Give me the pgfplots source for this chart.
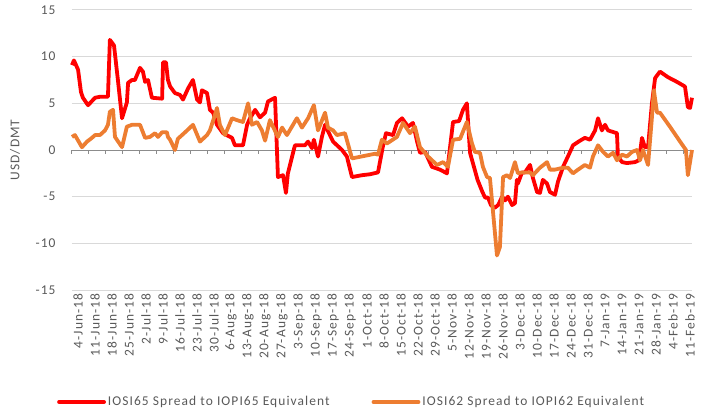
\documentclass[border=0pt]{standalone}
\usepackage{pgfplots}
\pgfplotsset{compat=1.18}
\usepackage{fontspec}
\setmainfont{Carlito}[LetterSpace=8]
\definecolor{txt}{HTML}{595959}
\definecolor{gridc}{HTML}{D9D9D9}
\definecolor{axc}{HTML}{8C8C8C}
\definecolor{sred}{HTML}{FF0000}
\definecolor{sorange}{HTML}{ED7D31}
\pgfplotstableread{
x y
0 9.1
0.8 9.6
2.5 8.6
3.7 6.2
4.5 5.6
6.6 4.8
9.5 5.6
11.5 5.7
14.8 5.7
15.6 11.8
17.3 11.2
18.9 7.5
20.6 3.4
22.6 5.1
23.1 7.2
24.7 7.5
25.9 7.5
28.0 8.8
29.2 8.4
30.1 7.3
31.3 7.5
32.9 5.6
37.1 5.5
37.5 9.4
38.7 9.4
39.5 7.5
40.4 6.8
42.4 6.1
44.5 5.9
45.7 5.4
47.8 6.6
49.8 7.5
51.5 5.4
52.7 5.1
53.5 6.4
55.6 6.1
56.8 4.3
58.1 4.0
59.7 2.7
62.2 1.8
65.9 1.3
67.1 0.5
70.4 0.5
72.1 2.7
73.3 3.4
75.4 4.3
77.4 3.5
79.5 4.0
80.7 5.2
83.6 5.6
84.8 -2.9
86.9 -2.7
88.1 -4.6
88.9 -2.5
91.8 0.5
95.9 0.5
97.2 0.9
98.8 0.2
99.6 1.1
101.3 -0.7
102.9 1.4
104.2 2.7
106.2 1.6
107.5 0.9
111.2 0
113.2 -0.7
115.3 -2.9
119.4 -2.7
122.7 -2.6
126.0 -2.4
128.1 0.5
129.3 1.8
132.2 1.6
133.8 2.9
135.9 3.4
138.4 2.5
140.4 2.9
142.1 0.9
143.3 -0.3
145.4 -0.2
148.2 -1.8
151.5 -2.1
154.4 -2.5
156.9 3.0
159.4 3.1
161.0 4.3
162.6 5.0
163.9 -0.3
167.0 -3.2
169.0 -4.5
170.1 -5.1
171.3 -5.1
172.5 -5.9
174.0 -6.2
175.5 -5.9
177.1 -5.0
178.3 -5.4
179.5 -5.0
181.2 -5.9
182.4 -5.7
183.2 -3.2
183.6 -3.6
185.3 -2.4
186.5 -2.4
188.6 -1.6
189.8 -3.0
191.5 -4.5
192.7 -4.6
193.9 -3.2
195.6 -3.6
196.8 -4.5
198.9 -4.8
200.1 -3.4
202.2 -1.8
204.2 -0.7
206.3 0.5
209.2 1.0
211.2 1.3
213.3 1.1
215.4 2.1
216.6 3.4
218.2 2.1
219.5 2.7
220.7 2.1
224.4 1.8
224.8 -0.7
226.5 -1.3
228.5 -1.4
231.8 -1.3
233.5 -1.1
234.7 1.3
235.9 0.3
237.2 0.3
238.8 5.0
240.1 7.7
242.1 8.4
245.4 7.8
249.1 7.3
252.4 6.8
253.6 4.6
254.5 4.5
255.3 5.6
}\redtable
\pgfplotstableread{
x y
0 1.4
1.2 1.6
4.1 0.3
6.2 0.9
8.2 1.3
9.5 1.6
11.5 1.6
13.6 2.1
14.8 2.7
15.6 4.1
16.9 4.3
17.7 1.4
20.6 0.3
22.6 2.5
24.7 2.7
28.0 2.7
30.1 1.3
32.1 1.4
34.2 1.8
35.4 1.4
37.1 1.9
39.1 1.9
39.5 1.4
40.4 1.1
42.4 0
43.6 1.2
45.3 1.6
47.4 2.1
49.8 2.7
52.7 0.9
55.6 1.6
56.8 2.1
58.9 3.8
59.7 4.5
60.9 2.7
63.0 1.6
65.9 3.4
67.9 3.2
70.4 3.0
72.5 5.0
74.1 2.7
76.2 3.0
78.2 2.1
79.5 1.0
81.5 3.2
84.8 1.4
86.5 2.4
88.5 1.6
92.6 3.4
94.7 2.4
97.2 3.4
99.6 4.8
101.3 2.1
104.2 4.0
105.4 2.4
107.5 2.1
109.1 1.6
112.4 1.8
115.3 -0.9
124.8 -0.4
126.0 -0.5
127.6 1.1
129.7 0.7
133.8 1.4
136.3 2.9
139.2 1.8
141.2 2.5
143.3 0.3
146.6 -0.7
150.3 -1.6
152.8 -1.3
154.8 -1.8
156.9 1.1
159.8 1.2
162.6 3.0
164.7 0.7
165.9 -0.2
168.0 -0.3
169.2 -1.8
170.9 -2.9
172.1 -3.0
175.0 -11.3
176.2 -10.4
177.5 -2.9
179.1 -2.7
180.4 -3.0
182.4 -1.3
183.6 -2.5
185.3 -2.4
188.6 -2.4
189.8 -2.7
192.7 -1.9
195.6 -1.3
196.8 -2.1
198.9 -2.1
202.2 -1.9
204.2 -1.9
206.3 -2.5
208.4 -2.1
211.2 -1.6
213.3 -1.9
214.5 -0.7
216.6 0.5
218.7 -0.2
220.7 -0.7
222.8 -0.3
224.4 -1.1
226.5 -0.5
228.5 -0.7
230.6 -0.2
232.7 0
233.9 -1.1
235.1 0
237.2 -1.6
238.8 3.5
239.6 6.4
240.9 4.0
242.1 4.0
246.2 2.5
250.4 0.9
252.8 0
253.6 -2.7
255.3 0
}\orangetable
\begin{document}
\begin{tikzpicture}
\begin{axis}[
  scale only axis,
  width=620bp, height=280bp,
  xmin=0, xmax=255.3,
  ymin=-15, ymax=15,
  ytick={-15,-10,-5,0,5,10,15},
  yticklabels={-15,-10,-5,0,5,10,15},
  xtick={0,7,...,252},
  xticklabels={4-Jun-18,11-Jun-18,18-Jun-18,25-Jun-18,2-Jul-18,9-Jul-18,16-Jul-18,23-Jul-18,30-Jul-18,6-Aug-18,13-Aug-18,20-Aug-18,27-Aug-18,3-Sep-18,10-Sep-18,17-Sep-18,24-Sep-18,1-Oct-18,8-Oct-18,15-Oct-18,22-Oct-18,29-Oct-18,5-Nov-18,12-Nov-18,19-Nov-18,26-Nov-18,3-Dec-18,10-Dec-18,17-Dec-18,24-Dec-18,31-Dec-18,7-Jan-19,14-Jan-19,21-Jan-19,28-Jan-19,4-Feb-19,11-Feb-19},
  xticklabel style={rotate=90, anchor=east, yshift=-6bp, font=\fontsize{13.5}{15}\selectfont, text=txt},
  yticklabel style={anchor=east, xshift=-13bp, font=\fontsize{13.5}{15}\selectfont, text=txt},
  major tick length=0pt,
  xtick style={draw=none},
  ytick style={draw=none},
  axis line style={draw=none},
  ymajorgrids,
  grid style={gridc, line width=1bp},
  ylabel={USD/DMT},
  ylabel style={at={(axis description cs:-0.0919,0.5)}, anchor=center, rotate=0, font=\fontsize{13.5}{15}\selectfont, text=txt},
  legend columns=2,
  legend cell align=left,
  legend style={draw=none, fill=none, at={(axis description cs:0.451,-0.4)}, anchor=center,
    font=\fontsize{13.5}{15}\selectfont, text=txt,
    /tikz/every even column/.append style={column sep=40bp}},
  legend image code/.code={\draw[#1, line cap=round] (0bp,0bp) -- (45bp,0bp);},
  clip=false,
]
\draw[axc, line width=1bp] (axis cs:0,0) -- (axis cs:255.3,0);
\pgfplotsinvokeforeach{0,7,...,252}{\draw[axc, line width=1bp] (axis cs:#1,0) -- ([yshift=-4bp]axis cs:#1,0);}
\addplot[sred, line width=3.8bp, line join=round, no marks] table[x=x,y=y] {\redtable};
\addlegendentry{IOSI65 Spread to IOPI65 Equivalent}
\addplot[sorange, line width=3.8bp, line join=round, no marks] table[x=x,y=y] {\orangetable};
\addlegendentry{IOSI62 Spread to IOPI62 Equivalent}
\end{axis}
\pgfresetboundingbox
\path (-72bp,-122bp) rectangle (633bp,290bp);
\end{tikzpicture}
\end{document}
